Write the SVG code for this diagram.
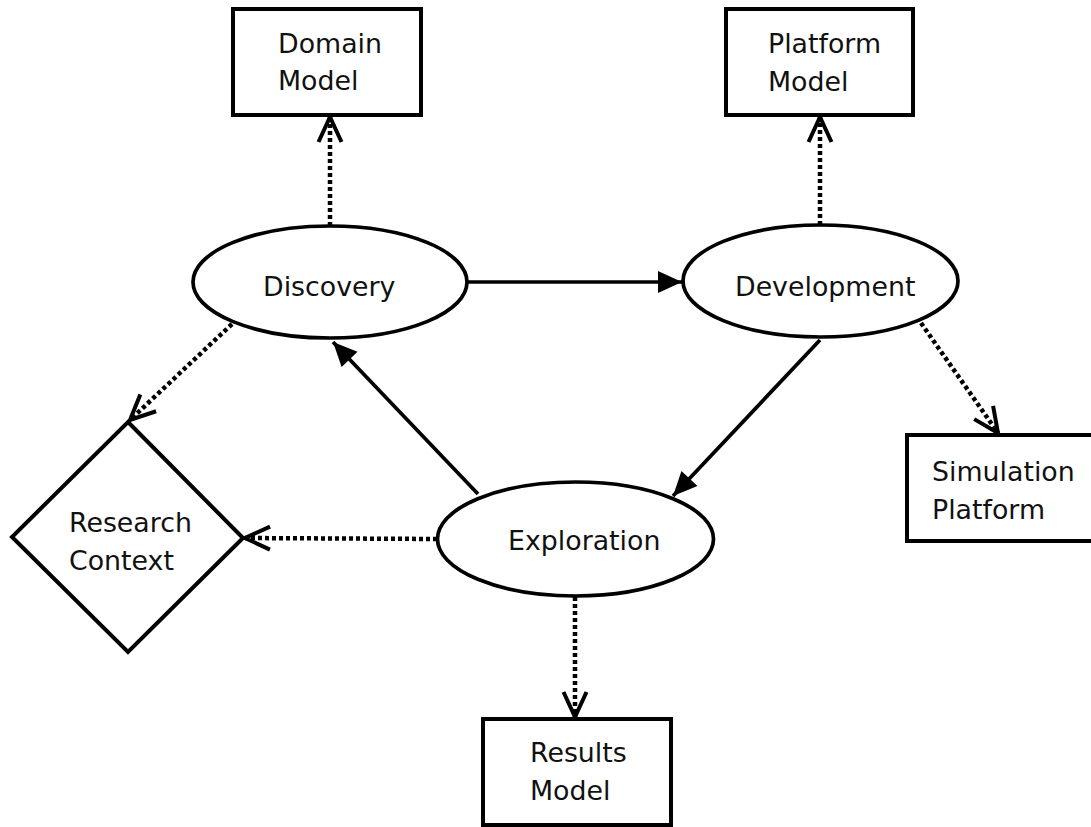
<svg xmlns="http://www.w3.org/2000/svg" width="1091" height="827" viewBox="0 0 1091 827">
<style>
.box{fill:#fff;stroke:#000;stroke-width:4}
.ell{fill:#fff;stroke:#000;stroke-width:3.7}
.t{font-family:"DejaVu Sans",sans-serif;font-size:26.8px;fill:#111}
.solid{stroke:#000;stroke-width:3.7;fill:none}
.dot{stroke:#000;stroke-width:4.5;fill:none;stroke-dasharray:4 3}
</style>
<defs>
<marker id="fill" markerUnits="userSpaceOnUse" markerWidth="30" markerHeight="30" refX="24" refY="11" orient="auto" overflow="visible"><path d="M0,0 L24,11 L0,22 z" fill="#000"/></marker>
<marker id="open" markerUnits="userSpaceOnUse" markerWidth="32" markerHeight="32" refX="26" refY="12" orient="auto" overflow="visible"><path d="M1,0.5 L26,12 L1,23.5" fill="none" stroke="#000" stroke-width="4"/></marker>
</defs>
<rect width="1091" height="827" fill="#fff"/>
<g id="connectors">
<path class="dot" d="M330,226 L330,117" marker-end="url(#open)"/>
<path class="dot" d="M820,225 L820,117" marker-end="url(#open)"/>
<path class="solid" d="M467,282 L682,282" marker-end="url(#fill)"/>
<path class="solid" d="M820,340 L673,496" marker-end="url(#fill)"/>
<path class="solid" d="M478,494 L333,342" marker-end="url(#fill)"/>
<path class="dot" d="M232,324 L130,420" marker-end="url(#open)"/>
<path class="dot" d="M437,539 L245,538" marker-end="url(#open)"/>
<path class="dot" d="M921,323 L998,433" marker-end="url(#open)"/>
<path class="dot" d="M575,597 L575,717" marker-end="url(#open)"/>
</g>
<g id="domain-model">
<rect class="box" x="233" y="9" width="188" height="106"/>
<text class="t" x="278" y="53">Domain</text>
<text class="t" x="278" y="90">Model</text>
</g>
<g id="platform-model">
<rect class="box" x="726" y="9" width="187" height="106"/>
<text class="t" x="768" y="53">Platform</text>
<text class="t" x="768" y="91">Model</text>
</g>
<g id="discovery">
<ellipse class="ell" cx="330" cy="282" rx="137" ry="56"/>
<text class="t" x="263" y="296">Discovery</text>
</g>
<g id="development">
<ellipse class="ell" cx="820.5" cy="281" rx="137.5" ry="56"/>
<text class="t" x="735" y="296">Development</text>
</g>
<g id="exploration">
<ellipse class="ell" cx="575.5" cy="539" rx="138" ry="57"/>
<text class="t" x="508" y="550">Exploration</text>
</g>
<g id="research-context">
<path class="box" d="M128,422 L243,538 L128,652 L12,537 Z"/>
<text class="t" x="69" y="532">Research</text>
<text class="t" x="69" y="570">Context</text>
</g>
<g id="simulation-platform">
<rect class="box" x="907" y="435" width="188" height="106"/>
<text class="t" x="932" y="481">Simulation</text>
<text class="t" x="932" y="519">Platform</text>
</g>
<g id="results-model">
<rect class="box" x="483" y="719" width="188" height="106"/>
<text class="t" x="530" y="762">Results</text>
<text class="t" x="530" y="800">Model</text>
</g>
</svg>
